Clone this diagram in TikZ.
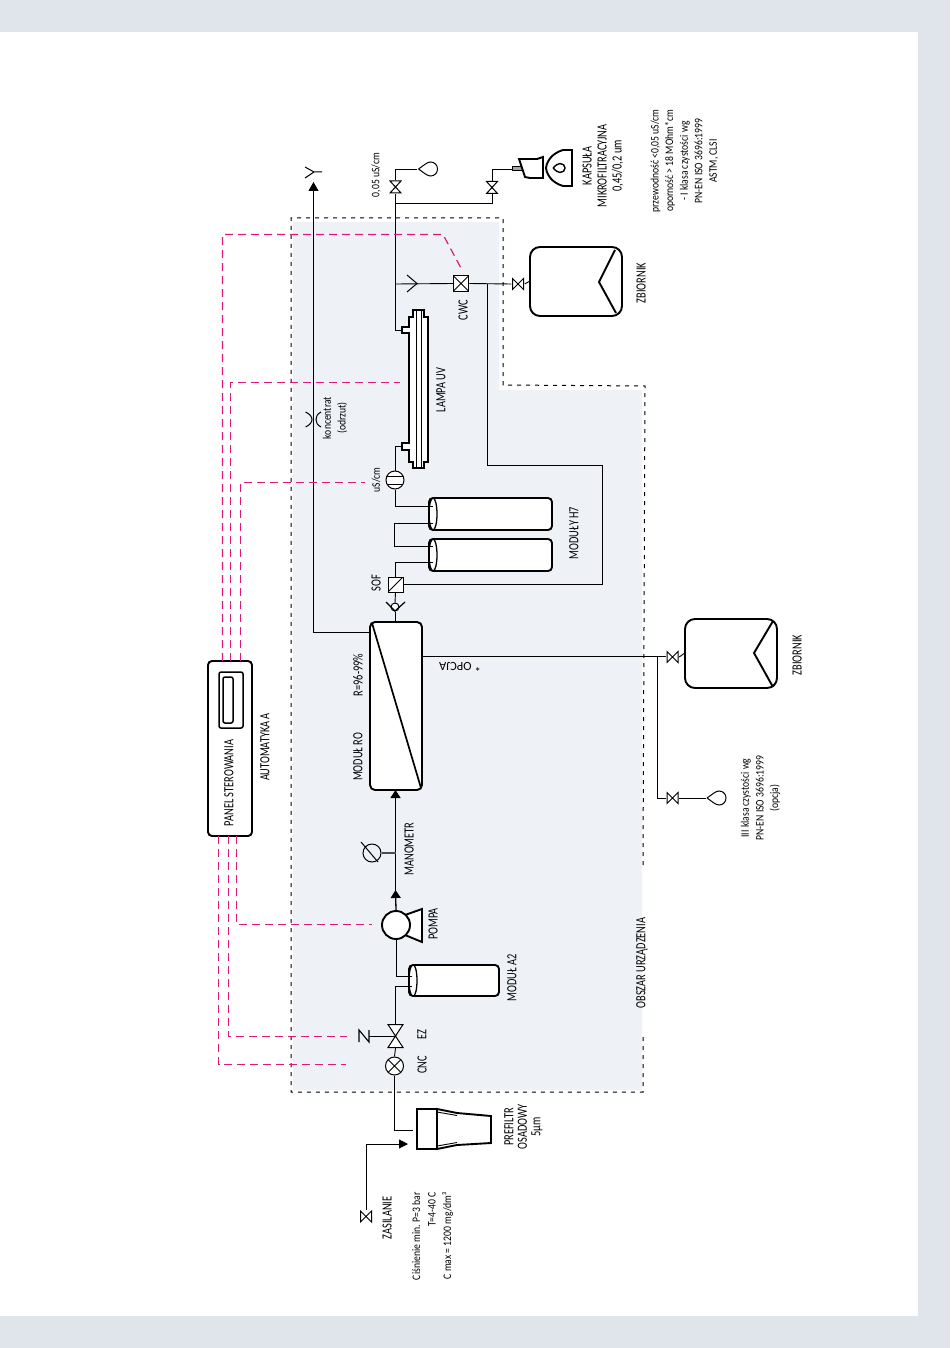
\documentclass[tikz,border=0pt]{standalone}
\usepackage{fontspec}
\setmainfont{Carlito}
\newfontfamily\capfont[FakeStretch=0.74]{Carlito}
\newfontfamily\smallfont[FakeStretch=0.84]{Carlito}
\usetikzlibrary{arrows.meta, calc, positioning}
\definecolor{bandblue}{HTML}{E0E5EC}
\definecolor{areablue}{HTML}{EEF1F6}
\definecolor{signalpink}{HTML}{DB1A7A}
\tikzset{
    pipe/.style={line width=0.9pt, draw=black},
    mainpipe/.style={line width=1.3pt, draw=black, -{Triangle[length=8pt, width=10pt]}},
    signal/.style={line width=1.2pt, draw=signalpink, dash pattern=on 8pt off 5pt},
    border/.style={line width=1pt, draw=black, dash pattern=on 4pt off 5pt},
    bold/.style={line width=1.9pt, draw=black},
    lbl/.style={rotate=90, inner sep=0pt, align=center, font=\capfont\fontsize{14}{15}\selectfont},
    smalllbl/.style={lbl, font=\smallfont\fontsize{11.5}{14.6}\selectfont},
    vessel/.style={draw, fill=white, line width=1.9pt, rounded corners=10pt, inner sep=0pt, minimum width=92pt, minimum height=69pt},
    tube/.style={draw, fill=white, line width=1.9pt, rounded corners=4pt, inner sep=0pt,
        path picture={\draw[line width=1.3pt] ([xshift=4pt]path picture bounding box.west) ellipse (4pt and 16pt);}},
    valveV/.style={inner sep=0pt, minimum size=13pt,
        path picture={\draw[line width=1pt, fill=white] (-5.5,-6) -- (5.5,-6) -- (-5.5,6) -- (5.5,6) -- cycle;}},
    valveH/.style={inner sep=0pt, minimum size=13pt,
        path picture={\draw[line width=1pt, fill=white] (-5.5,-5.5) -- (-5.5,5.5) -- (5.5,-5.5) -- (5.5,5.5) -- cycle;}},
    droplet/.style={inner sep=0pt, minimum width=21pt, minimum height=17pt,
        path picture={\draw[line width=1pt] (-9.5,0) .. controls (-5,-3) and (-1,-7) .. (2.5,-7) .. controls (6.5,-7) and (9.5,-4) .. (9.5,0) .. controls (9.5,4) and (6.5,7) .. (2.5,7) .. controls (-1,7) and (-5,3) .. (-9.5,0);}},
    crossed/.style={draw, fill=white, line width=1pt, inner sep=0pt,
        path picture={\draw[line width=1pt] (path picture bounding box.north west) -- (path picture bounding box.south east) (path picture bounding box.north east) -- (path picture bounding box.south west);}},
}
\begin{document}
\begin{tikzpicture}[x=1pt, y=-1pt]
    \useasboundingbox (0,0) rectangle (950,1348);
    \fill[bandblue] (0,0) rectangle (950,1348);
    \fill[white] (0,32) rectangle (918,1316);

    % obszar urzadzenia
    \fill[areablue] (293,222) -- (499,222) -- (499,390) -- (642,390) -- (642,1090) -- (293,1090) -- cycle;
    \draw[border] (643,865) -- (645,386) -- (503,385) -- (503,218) -- (291,218) -- (291,1092) -- (643,1092) -- (643,1037);
    \node[lbl] (areaText) at (642,963) {OBSZAR URZĄDZENIA};

    % zbiorniki
    \node[vessel] (tankTop) at (576,281.5) {};
    \draw[bold] (615,250) -- (599,282) -- (616,313);
    \node[lbl] (tankTopText) at (641,283) {ZBIORNIK};
    \node[vessel] (tankLow) at (731,653.5) {};
    \draw[bold] (773,621) -- (754,653) -- (773,687);
    \node[lbl] (tankLowText) at (797,655) {ZBIORNIK};

    % moduly
    \node[tube, minimum width=123pt, minimum height=32pt] (modH7a) at (490.5,514) {};
    \node[tube, minimum width=123pt, minimum height=32pt] (modH7b) at (490.5,555) {};
    \node[tube, minimum width=90pt, minimum height=31pt] (modA2) at (454,980.5) {};
    \node[lbl] (modH7Text) at (574,533) {MODUŁY H7};
    \node[lbl] (modA2Text) at (512,978) {MODUŁ A2};

    % modul RO
    \node[draw, fill=white, line width=1.9pt, rounded corners=5pt, inner sep=0pt, minimum width=52pt, minimum height=168pt,
        path picture={\draw[line width=1.7pt] (-24,-83) -- (25,82);}] (modRO) at (396,706) {};
    \node[lbl] (roText) at (358,757) {MODUŁ RO};
    \node[lbl] (rateText) at (358,675) {R=96-99\%};
    \node[rotate=180, inner sep=0pt, font=\fontsize{12.5}{13}\selectfont] (optText) at (460,667) {* OPCJA};

    % panel sterowania
    \node[draw, fill=white, line width=1.9pt, rounded corners=4pt, inner sep=0pt, minimum width=44pt, minimum height=175pt] (panel) at (230,748.5) {};
    \node[draw, line width=1.5pt, rounded corners=2pt, inner sep=0pt, minimum width=24pt, minimum height=56pt] (panelOut) at (231,700) {};
    \node[draw, line width=1.5pt, rounded corners=2pt, inner sep=0pt, minimum width=10pt, minimum height=46pt] (panelIn) at (228,700) {};
    \node[lbl] (panelText) at (229,783) {PANEL STEROWANIA};
    \node[lbl] (autoText) at (265,747) {AUTOMATYKA A};

    % armatura
    \node[valveV] (vTop) at (395.5,187) {};
    \node[valveV] (vCap) at (492,187.5) {};
    \node[valveH] (vTank) at (518,284) {};
    \node[valveH] (vLow) at (672.5,657) {};
    \node[valveH] (vOpt) at (672.5,798) {};
    \node[valveH] (vFeed) at (366,1216.5) {};
    \node[inner sep=0pt, minimum size=24pt, path picture={\draw[line width=1pt, fill=white] (-7.5,-11.5) -- (7.5,-11.5) -- (-7.5,11.5) -- (7.5,11.5) -- cycle;}] (vEZ) at (395.5,1036) {};
    \node[droplet] (dropTop) at (428,169) {};
    \node[droplet] (dropOpt) at (716.5,798) {};

    \node[crossed, circle, minimum size=18pt] (cnc) at (394.5,1066) {};
    \node[crossed, minimum size=15.5pt] (cwc) at (461,283.5) {};
    \node[draw, fill=white, line width=1pt, inner sep=0pt, minimum size=15pt,
        path picture={\draw[line width=1pt] (path picture bounding box.south west) -- (path picture bounding box.north east);}] (sof) at (395.5,584.5) {};
    \node[draw, circle, fill=white, line width=1pt, inner sep=0pt, minimum size=18pt,
        path picture={\draw[line width=1pt] (-10,-3.5) -- (10,-3.5) (-10,4) -- (10,4);}] (sensor) at (395,480) {};
    \node[draw, circle, line width=1pt, inner sep=0pt, minimum size=18pt] (gauge) at (372,853) {};
    \node[draw, circle, fill=white, line width=1pt, inner sep=0pt, minimum size=8pt] (check) at (395,607) {};
    \draw[line width=1.2pt] (386,602) -- (395,611) -- (405,602);
    \draw[line width=1pt] (361,842) -- (378,862);

    % pompa
    \draw[bold, fill=white] (405,915) -- (422,909) -- (422,942) -- (405,935) -- cycle;
    \node[draw, circle, fill=white, line width=1.9pt, inner sep=0pt, minimum size=28pt] (pump) at (396,925) {};
    \node[lbl] (pumpText) at (433,924) {POMPA};

    % lampa UV
    \draw[bold, fill=white] (402,327) -- (409,327) -- (409,317) -- (413,317) -- (413,310) -- (424,310) -- (424,317) -- (428,317) -- (428,462)
        -- (424,462) -- (424,468) -- (413,468) -- (413,462) -- (409,462) -- (409,450) -- (402,450) -- (402,443) -- (409,443) -- (409,333) -- (402,333) -- cycle;
    \draw[line width=0.9pt] (416,310) -- (416,468) (421.5,310) -- (421.5,468);
    \coordinate (uvOut) at (402,330);
    \coordinate (uvIn) at (402,446.5);
    \node[lbl] (uvText) at (441,390) {LAMPA UV};

    % kapsula i prefiltr
    \draw[line width=1pt, fill=gray!70] (512,167) rectangle (522,171);
    \draw[bold, fill=white] (519,159) -- (537,159) -- (543,157) -- (543,178) -- (530,178) -- (525,177) -- cycle;
    \draw[bold] (572,150) -- (563,150) .. controls (553,153) and (547,160) .. (546,168) .. controls (547,176) and (553,183) .. (563,186) -- (572,186) -- cycle;
    \draw[line width=1.4pt] (553,168) .. controls (555,165.5) and (558,163.5) .. (560,163.5) .. controls (563,163.5) and (565,165.5) .. (565,168) .. controls (565,170.5) and (563,172.5) .. (560,172.5) .. controls (558,172.5) and (555,170.5) .. (553,168);
    \coordinate (capIn) at (512,169.5);
    \draw[bold, fill=white] (437,1109) -- (457,1113) -- (491,1116) -- (491,1143) -- (457,1145) -- (437,1149) -- cycle;
    \draw[bold, fill=white] (417,1109) rectangle (437,1149);
    \draw[line width=0.9pt] (437,1112) -- (457,1115.5) (437,1146) -- (457,1142.5);
    \coordinate (preIn) at (413,1130);
    \coordinate (feedTip) at (408,1144);

    % wezly pomocnicze
    \coordinate (jCap) at (395.5,203);
    \coordinate (jWaste) at (487,284);
    \coordinate (jOpt) at (657,656.5);
    \coordinate (wasteOut) at (322,172);
    \coordinate (loopA) at (602.5,465);
    \coordinate (loopB) at (602.5,584.5);
    \coordinate (h7aIn) at (433,506);
    \coordinate (h7aOut) at (433,523);
    \coordinate (h7bIn) at (433,546);
    \coordinate (h7bOut) at (433,562);
    \coordinate (a2In) at (412,986);
    \coordinate (a2Out) at (412,976);
    \coordinate (roWaste) at (370,632.5);
    \coordinate (roPerm) at (422,656.5);
    \coordinate (roFeed) at (395.5,790);
    \coordinate (wasteTip) at (313.5,182);

    % rurociagi
    \draw[pipe] (vTop.south) -- (395.5,330) -- (uvOut);
    \draw[pipe] (vTop.north) |- (dropTop.west);
    \draw[pipe] (jCap) -| (vCap.south);
    \draw[pipe] (vCap.north) |- (capIn);
    \draw[pipe] (395.5,284) -- (cwc.west);
    \draw[pipe] (cwc.east) -- (vTank.west);
    \draw[pipe] (vTank.east) -- (tankTop.west);
    \draw[pipe] (jWaste) |- (loopA) -- (loopB) -- (sof.east);
    \draw[pipe] (uvIn) -| (sensor.north);
    \draw[pipe] (sensor.south) |- (h7aIn);
    \draw[pipe] (h7aOut) -- (394,523) -- (394,546) -- (h7bIn);
    \draw[pipe] (h7bOut) -| (sof.north);
    \draw[pipe] (sof.south) -- (check.north);
    \draw[pipe] (check.south) -- (395,622);
    \draw[line width=0.9pt, -{Triangle[length=9pt, width=10pt]}] (roWaste) -| (wasteTip);
    \draw[pipe] (roPerm) -- (vLow.west |- roPerm);
    \draw[pipe] (vLow.east) -- (tankLow.west);
    \draw[pipe] (jOpt) |- (vOpt.west);
    \draw[pipe] (vOpt.east) -- (dropOpt.west);
    \draw[mainpipe] (pump.north) -- (395.5,890);
    \draw[mainpipe] (395.5,898) -- (roFeed);
    \draw[line width=1.5pt, draw=black!70] (gauge.east) -- (395.5,853);
    \draw[pipe] (pump.south) |- (a2Out);
    \draw[pipe] (a2In) -| (vEZ.north);
    \draw[pipe] (vEZ.south) -- (cnc.north);
    \draw[pipe] (cnc.south) |- (preIn);
    \draw[pipe, -{Triangle[length=9pt, width=9pt]}] (vFeed.north) |- (feedTip);
    \draw[pipe] (vEZ.center) -- (369,1036);
    \draw[line width=1.1pt] (359,1042) -- (359,1030) -- (369,1042) -- (369,1030);

    % symbole otwartego wylotu
    \draw[line width=1pt] (305,167) -- (314,172) -- (305,178) (314,172) -- (wasteOut);
    \draw[line width=1pt] (407,275) -- (417,283.5) -- (407,292);
    \draw[line width=1pt] (305.5,412) .. controls (310,414) and (312,417) .. (312,419.5) .. controls (312,422) and (310,425) .. (305.5,427);
    \draw[line width=1pt] (321,412) .. controls (317,414) and (316,417) .. (316,419.5) .. controls (316,422) and (317,425) .. (321,427);

    % linie sterowania
    \coordinate (panelTopA) at (222.5,661);
    \coordinate (panelTopB) at (230.5,661);
    \coordinate (panelTopC) at (240.5,661);
    \coordinate (panelLowA) at (218.5,836);
    \coordinate (panelLowB) at (228.5,836);
    \coordinate (panelLowC) at (236.5,836);
    \coordinate (sigCwc) at (462,270);
    \coordinate (sigUv) at (400,382.5);
    \coordinate (sigCond) at (365,482.5);
    \coordinate (sigPump) at (372,924.5);
    \coordinate (sigEz) at (347,1036.5);
    \coordinate (sigCnc) at (346,1064.5);
    \draw[signal] (panelTopA) |- (443,234.5) -- (sigCwc);
    \draw[signal] (panelTopB) |- (sigUv);
    \draw[signal] (panelTopC) |- (sigCond);
    \draw[signal] (panelLowC) |- (sigPump);
    \draw[signal] (panelLowB) |- (sigEz);
    \draw[signal] (panelLowA) |- (sigCnc);

    % opisy
    \node[lbl] (capText) at (603,166) {KAPSUŁA\\MIKROFILTRACYJNA\\0,45/0,2 um};
    \node[smalllbl] (classText) at (684.5,161) {przewodność <0,05 uS/cm\\oporność > 18 MOhm*cm\\- I klasa czystości wg\\PN-EN ISO 3696:1999\\ASTM, CLSI};
    \node[smalllbl] (topCond) at (376,175) {0,05 uS/cm};
    \node[lbl] (cwcText) at (463,310) {CWC};
    \node[smalllbl] (wasteText) at (335,418) {koncentrat\\(odrzut)};
    \node[smalllbl] (condText) at (376,480) {uS/cm};
    \node[lbl] (sofText) at (376,583) {SOF};
    \node[lbl] (gaugeText) at (409,849) {MANOMETR};
    \node[lbl] (ezText) at (422,1035) {EZ};
    \node[lbl] (cncText) at (422,1065) {CNC};
    \node[lbl, font=\capfont\fontsize{14}{13.5}\selectfont] (preText) at (523.5,1127) {PREFILTR\\OSADOWY\\5µm};
    \node[lbl] (feedText) at (387,1218) {ZASILANIE};
    \node[smalllbl, align=right, anchor=east, font=\smallfont\fontsize{11.5}{15.5}\selectfont] (feedData) at (432.5,1192) {Ciśnienie min. P=3 bar\\T=4-40 C\\C max = 1200 mg/dm³};
    \node[smalllbl] (optData) at (760.5,798) {III klasa czystości wg\\PN-EN ISO 3696:1999\\(opcja)};
\end{tikzpicture}
\end{document}
